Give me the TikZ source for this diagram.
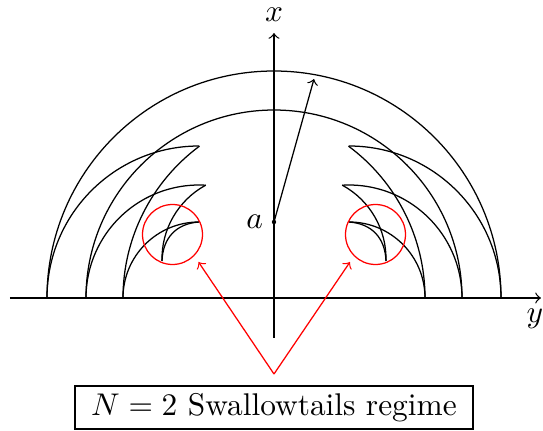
\documentclass[tikz,border=0pt]{standalone}
\begin{document}
\begin{tikzpicture}[x=0.3185pt,y=0.3185pt,
  front/.style={black, line width=0.4pt},
  axis/.style={->, line width=0.4pt},
  hintarrow/.style={red, ->, line width=0.4pt},
  zone/.style={draw=red, line width=0.4pt, circle, inner sep=0pt, minimum size=19.11pt},
  caption/.style={draw, line width=0.7pt, minimum width=126.7pt, minimum height=13.7pt, inner ysep=2.4pt, inner xsep=1pt}
]
\useasboundingbox (-274,-133) rectangle (269,298);
% axes
\coordinate (yl) at (-264,0);
\coordinate (yr) at (267,0);
\coordinate (xb) at (0,-40);
\coordinate (xt) at (0,265);
\draw[axis] (yl) -- (yr);
\node[below] (ylab) at (261,0) {$y$};
\draw[axis] (xb) -- (xt) node[above] (xlab) {$x$};
% full fronts
\draw[front] (227,0) arc[start angle=0,end angle=180,radius=227];
\draw[front] (188,0) arc[start angle=0,end angle=180,radius=188];
% swallowtails (left, mirrored right)
\foreach \s in {1,-1}{
  \begin{scope}[xscale=\s]
    \draw[front] (-227,0) arc[start angle=180,end angle=90,radius=152];
    \draw[front] (-151,0) arc[start angle=180,end angle=126.5,radius=189];
    \draw[front] (-188,0) arc[start angle=180,end angle=86.55,radius=113];
    \draw[front] (-68.3,112.8) arc[start angle=118.5,end angle=181.6,radius=83.6];
    \draw[front] (-151,0) arc[start angle=180,end angle=90,radius=76];
    \draw[front] (-75,76) .. controls (-97.9,74.4) and (-111.2,60) .. (-112,37);
  \end{scope}
}
% point a and arrow
\node[circle, fill, inner sep=0pt, minimum size=1.4pt] (a) at (0,76) {};
\node[left] (alab) at (a.center) {$a$};
\coordinate (atip) at (40,219);
\draw[axis] (a.center) -- (atip);
% highlighted zones
\node[zone] (zl) at (-101.5,63.5) {};
\node[zone] (zr) at (101.5,63.5) {};
\coordinate (src) at (0,-76);
\coordinate (tl) at (-75.5,36);
\coordinate (tr) at (76,36);
\draw[hintarrow] (src) -- (tl);
\draw[hintarrow] (src) -- (tr);
% caption
\node[caption] (box) at (0,-109.5) {$N=2$ Swallowtails regime};
\end{tikzpicture}
\end{document}
